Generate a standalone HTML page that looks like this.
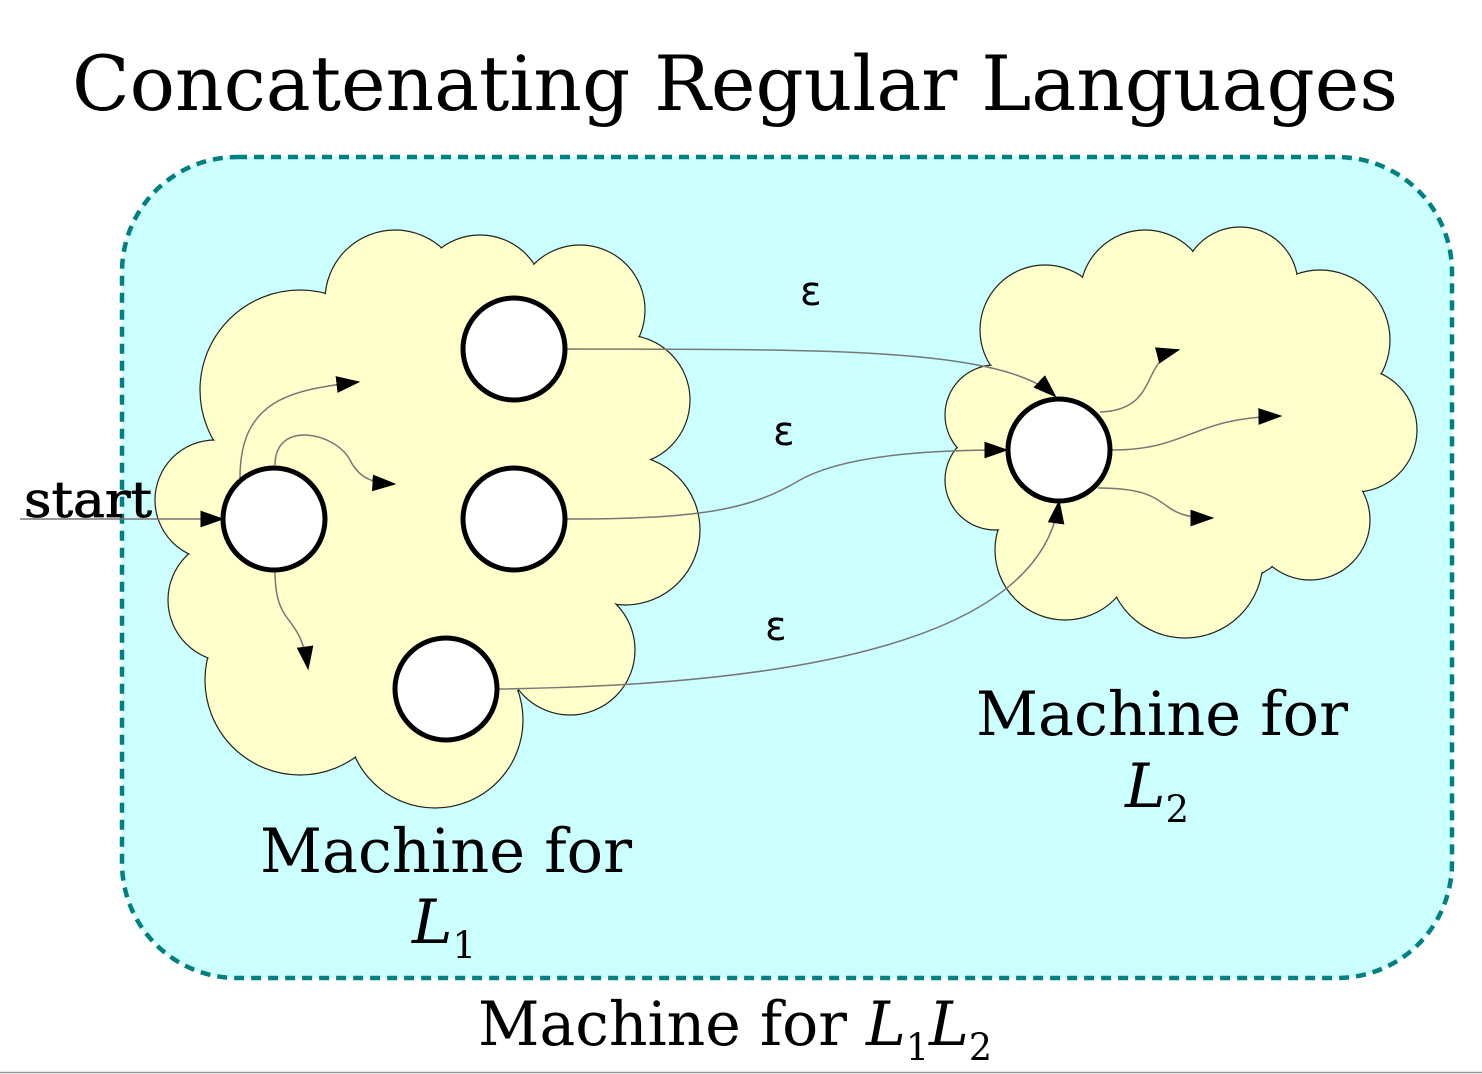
<!DOCTYPE html>
<html><head><meta charset="utf-8"><style>
html,body{margin:0;padding:0;background:#fff;}
svg{display:block;}
</style></head><body>
<svg width="1482" height="1074" viewBox="0 0 1482 1074" xmlns="http://www.w3.org/2000/svg">
<defs>
<marker id="ah" viewBox="0 0 10 10" refX="9" refY="5" markerWidth="24" markerHeight="24" markerUnits="userSpaceOnUse" orient="auto">
<path d="M0,1.5 L10,5 L0,8.5 Z" fill="#000"/></marker>
</defs>
<text x="72" y="110" textLength="1326" lengthAdjust="spacingAndGlyphs" font-family="DejaVu Serif, Liberation Serif, serif" font-size="75.5" fill="#000">Concatenating Regular Languages</text>
<rect x="122" y="157" width="1330" height="821" rx="115" ry="115" fill="#ccffff" stroke="#008080" stroke-width="4.5" stroke-dasharray="10,7"/>

<g>
<g fill="#ffffcc" stroke="#222" stroke-width="1.2">
<circle cx="430" cy="500" r="210"/>
<circle cx="300" cy="390" r="100"/>
<circle cx="395" cy="300" r="70"/>
<circle cx="480" cy="300" r="65"/>
<circle cx="580" cy="310" r="65"/>
<circle cx="625" cy="400" r="65"/>
<circle cx="625" cy="530" r="75"/>
<circle cx="570" cy="650" r="65"/>
<circle cx="435" cy="720" r="88"/>
<circle cx="300" cy="680" r="95"/>
<circle cx="230" cy="600" r="62"/>
<circle cx="215" cy="500" r="60"/>
</g>
<g fill="#ffffcc">
<circle cx="430" cy="500" r="209"/>
<circle cx="300" cy="390" r="99"/>
<circle cx="395" cy="300" r="69"/>
<circle cx="480" cy="300" r="64"/>
<circle cx="580" cy="310" r="64"/>
<circle cx="625" cy="400" r="64"/>
<circle cx="625" cy="530" r="74"/>
<circle cx="570" cy="650" r="64"/>
<circle cx="435" cy="720" r="87"/>
<circle cx="300" cy="680" r="94"/>
<circle cx="230" cy="600" r="61"/>
<circle cx="215" cy="500" r="59"/>
</g>
</g>

<g>
<g fill="#ffffcc" stroke="#222" stroke-width="1.2">
<circle cx="1180" cy="430" r="165"/>
<circle cx="1045" cy="330" r="65"/>
<circle cx="1145" cy="295" r="65"/>
<circle cx="1240" cy="285" r="58"/>
<circle cx="1320" cy="340" r="70"/>
<circle cx="1355" cy="430" r="62"/>
<circle cx="1310" cy="520" r="60"/>
<circle cx="1185" cy="560" r="78"/>
<circle cx="1065" cy="550" r="70"/>
<circle cx="995" cy="480" r="50"/>
<circle cx="995" cy="415" r="50"/>
</g>
<g fill="#ffffcc">
<circle cx="1180" cy="430" r="164"/>
<circle cx="1045" cy="330" r="64"/>
<circle cx="1145" cy="295" r="64"/>
<circle cx="1240" cy="285" r="57"/>
<circle cx="1320" cy="340" r="69"/>
<circle cx="1355" cy="430" r="61"/>
<circle cx="1310" cy="520" r="59"/>
<circle cx="1185" cy="560" r="77"/>
<circle cx="1065" cy="550" r="69"/>
<circle cx="995" cy="480" r="49"/>
<circle cx="995" cy="415" r="49"/>
</g>
</g>

<g fill="none" stroke="#777" stroke-width="1.5">
<path d="M20,519 L222,519" marker-end="url(#ah)"/>
<path d="M240,478 C240,400 290,390 358,382" marker-end="url(#ah)"/>
<path d="M275,465 C275,420 335,432 350,460 C360,480 375,483 394,484" marker-end="url(#ah)"/>
<path d="M275,570 C275,630 300,610 308,668" marker-end="url(#ah)"/>
<path d="M566,349 C800,350 1000,345 1055,396" marker-end="url(#ah)"/>
<path d="M566,519 C700,519 750,510 800,480 C850,452 950,450 1006,450" marker-end="url(#ah)"/>
<path d="M498,689 C800,685 1040,640 1059,502" marker-end="url(#ah)"/>
<path d="M1100,412 C1160,410 1140,360 1178,350" marker-end="url(#ah)"/>
<path d="M1111,450 C1190,450 1190,418 1280,416" marker-end="url(#ah)"/>
<path d="M1098,488 C1180,488 1150,518 1212,518" marker-end="url(#ah)"/>
</g>

<g fill="#fff" stroke="#000" stroke-width="5">
<circle cx="274" cy="519" r="51"/>
<circle cx="514" cy="349" r="51"/>
<circle cx="514" cy="519" r="51"/>
<circle cx="446" cy="689" r="51"/>
<circle cx="1059" cy="450" r="51"/>
</g>

<text x="24" y="517" textLength="128" lengthAdjust="spacingAndGlyphs" font-family="DejaVu Serif, Liberation Serif, serif" font-size="50" stroke="#000" stroke-width="0.8" fill="#000">start</text>
<g font-family="DejaVu Sans, Liberation Sans, sans-serif" font-size="40" fill="#000">
<text x="800" y="305">ε</text>
<text x="773" y="445">ε</text>
<text x="765" y="640">ε</text>
</g>
<g font-family="DejaVu Serif, Liberation Serif, serif" font-size="61" fill="#000">
<text x="260" y="872" textLength="372" lengthAdjust="spacingAndGlyphs">Machine for</text>
<text x="412" y="943" font-style="italic">L<tspan font-size="37" font-style="normal" dy="15">1</tspan></text>
<text x="976" y="735" textLength="372" lengthAdjust="spacingAndGlyphs">Machine for</text>
<text x="1125" y="807" font-style="italic">L<tspan font-size="37" font-style="normal" dy="15">2</tspan></text>
<text x="478" y="1045" textLength="514" lengthAdjust="spacingAndGlyphs">Machine for <tspan font-style="italic">L</tspan><tspan font-size="37" dy="15">1</tspan><tspan font-style="italic" dy="-15">L</tspan><tspan font-size="37" dy="15">2</tspan></text>
</g>
<line x1="0" y1="1072.5" x2="1482" y2="1072.5" stroke="#999" stroke-width="1.5"/>
</svg>
</body></html>
